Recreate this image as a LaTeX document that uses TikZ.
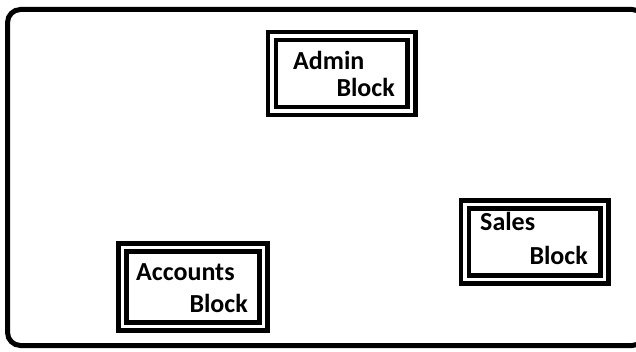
\documentclass[tikz,border=0pt]{standalone}
\usepackage{fontspec}
\setmainfont{Carlito}
\begin{document}
\begin{tikzpicture}[x=1pt,y=1pt,
  blockbox/.style={draw, double, line width=4.5pt, double distance=3.5pt, inner sep=0pt, minimum width=#1},
  lbl/.style={inner sep=0pt, font=\fontsize{26}{30}\selectfont\bfseries}]
\useasboundingbox (0,0) rectangle (636,351);
\fill[white] (0,0) rectangle (636,351);
\draw[line width=5pt, rounded corners=13pt] (7.5,5.5) rectangle (645,341.5);
\node[blockbox=139.5pt, minimum height=75pt] (admin) at (341.75,277.5) {};
\node[blockbox=139.5pt, minimum height=75pt] (sales) at (534.75,109) {};
\node[blockbox=141pt, minimum height=79pt] (accounts) at (193,64) {};
\node[lbl, anchor=base west] (admint) at (293,281) {Admin};
\node[lbl, anchor=base east] (adminb) at (395,254) {Block};
\node[lbl, anchor=base west] (salest) at (480,121) {Sales};
\node[lbl, anchor=base east] (salesb) at (588,87) {Block};
\node[lbl, anchor=base west] (acct) at (136,71) {Accounts};
\node[lbl, anchor=base east] (accb) at (248,39) {Block};
\end{tikzpicture}
\end{document}
